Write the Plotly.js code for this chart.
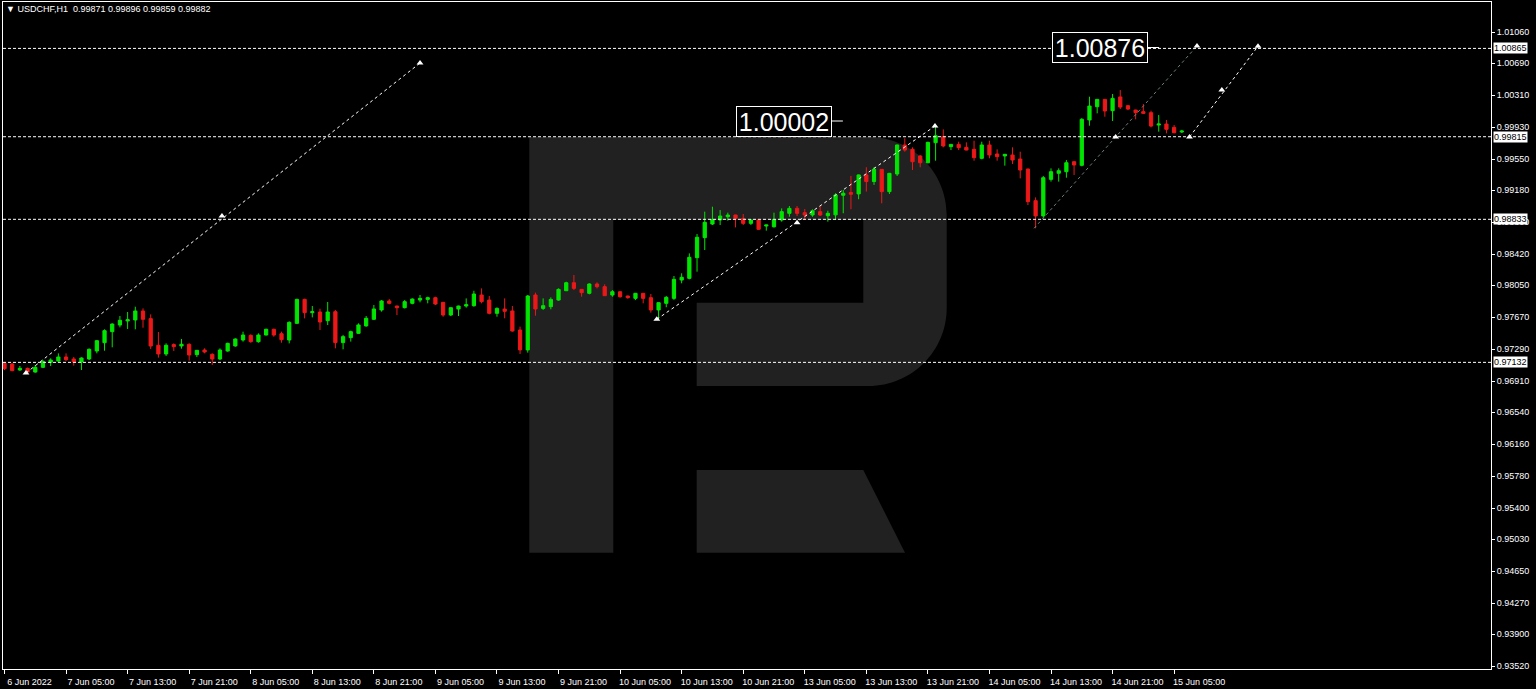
<!DOCTYPE html>
<html>
<head>
<meta charset="utf-8">
<script src="https://cdn.plot.ly/plotly-3.0.1.min.js"></script>
<style>
html,body{margin:0;padding:0;background:#000;}
#chart{width:1536px;height:689px;}
</style>
</head>
<body>
<div id="chart"></div>
<script>
// ---------- DATA ----------
const symbolName = 'USDCHF,H1';
const lastBar = ['0.99871', '0.99896', '0.99859', '0.99882'];

const openP = [
.97121,.97113,.97041,.97061,.97017,.97073,.97133,.97148,.97196,.97172,
.97137,.97172,.97267,.97366,.97497,.97576,.97624,.97636,.97743,.97652,
.97335,.97232,.97343,.97327,.97347,.97224,.97279,.97228,.97172,.97267,
.97327,.97398,.97453,.97378,.97457,.97525,.97473,.97398,.97596,.97881,
.97723,.97731,.97628,.97735,.97367,.97426,.97477,.97565,.97644,.97755,
.97862,.97802,.97782,.97834,.97873,.97881,.97901,.97846,.97695,.97766,
.97802,.97806,.97933,.97873,.97715,.97766,.97743,.97517,.97280,.97933,
.97774,.97794,.97873,.97984,.98079,.98000,.97953,.98064,.98032,.97933,
.97972,.97921,.97893,.97953,.97901,.97755,.97834,.97893,.98111,.98131,
.98377,.98615,.98777,.98825,.98864,.98884,.98844,.98785,.98825,.98753,
.98745,.98825,.98904,.98963,.98912,.98884,.98924,.98876,.98886,.99119,
.99151,.99135,.99361,.99282,.99427,.99162,.99372,.99717,.99665,.99586,
.99506,.99744,.99815,.99697,.99724,.99689,.99665,.99558,.99717,.99610,
.99586,.99598,.99550,.99431,.99055,.98873,.99308,.99380,.99399,.99518,
.99475,1.00014,1.00172,1.00259,1.00125,1.00288,1.00184,1.00132,1.00113,1.00101,
.99954,.99966,.99926,.99871
];
const highP = [
.97129,.97121,.97089,.97069,.97101,.97160,.97180,.97239,.97239,.97196,
.97192,.97299,.97398,.97525,.97596,.97683,.97731,.97794,.97774,.97703,
.97493,.97358,.97358,.97410,.97358,.97279,.97299,.97239,.97299,.97366,
.97418,.97497,.97465,.97477,.97533,.97533,.97497,.97620,.97889,.97889,
.97802,.97770,.97850,.97755,.97458,.97509,.97596,.97683,.97814,.97873,
.97885,.97806,.97873,.97893,.97933,.97913,.97913,.97846,.97786,.97806,
.97893,.97984,.98012,.97921,.97786,.97893,.97802,.97557,.97933,.97961,
.97893,.97905,.98012,.98091,.98171,.98004,.98072,.98083,.98060,.97992,
.97976,.97925,.97957,.97957,.97945,.97846,.97921,.98159,.98191,.98428,
.98658,.98924,.98983,.98943,.98912,.98888,.98896,.98832,.98832,.98769,
.98912,.98963,.98991,.98991,.98955,.98951,.98991,.98935,.99143,.99183,
.99349,.99365,.99452,.99452,.99431,.99384,.99721,.99796,.99689,.99598,
.99756,.99954,.99903,.99728,.99756,.99748,.99768,.99756,.99768,.99665,
.99610,.99689,.99637,.99435,.99094,.99348,.99439,.99439,.99538,.99522,
1.00037,1.00291,1.00263,1.00263,1.00323,1.00370,1.00192,1.00136,1.00204,1.00125,
1.00073,1.00014,.99954,.99896
];
const lowP = [
.97042,.97026,.97033,.97009,.97009,.97065,.97089,.97141,.97148,.97093,
.97041,.97160,.97239,.97271,.97311,.97548,.97529,.97525,.97544,.97291,
.97188,.97208,.97267,.97295,.97153,.97196,.97239,.97101,.97160,.97259,
.97319,.97378,.97366,.97366,.97453,.97437,.97366,.97358,.97588,.97655,
.97667,.97517,.97576,.97299,.97287,.97379,.97470,.97557,.97636,.97735,
.97822,.97695,.97774,.97822,.97846,.97834,.97814,.97675,.97683,.97683,
.97782,.97794,.97834,.97703,.97675,.97656,.97497,.97232,.97248,.97687,
.97755,.97763,.97865,.97980,.97992,.97913,.97941,.98012,.97921,.97913,
.97901,.97889,.97873,.97834,.97723,.97644,.97787,.97874,.98072,.98119,
.98210,.98468,.98765,.98765,.98817,.98737,.98765,.98765,.98706,.98698,
.98733,.98805,.98864,.98872,.98825,.98864,.98872,.98805,.98826,.98905,
.98953,.99072,.99163,.99242,.99023,.99134,.99348,.99637,.99419,.99451,
.99499,.99530,.99689,.99657,.99657,.99653,.99530,.99546,.99558,.99530,
.99471,.99491,.99320,.99003,.98726,.98853,.99281,.99281,.99328,.99360,
.99463,.99946,1.00093,1.00053,1.00002,1.00144,1.00132,1.00022,1.00085,.99926,
.99875,.99855,.99855,.99859
];
const closeP = [
.97057,.97034,.97061,.97017,.97073,.97141,.97160,.97196,.97164,.97137,
.97184,.97287,.97390,.97509,.97588,.97632,.97640,.97743,.97644,.97327,
.97232,.97335,.97319,.97347,.97220,.97275,.97255,.97172,.97279,.97358,
.97410,.97457,.97378,.97457,.97525,.97457,.97402,.97608,.97881,.97723,
.97735,.97612,.97731,.97367,.97438,.97497,.97577,.97656,.97767,.97862,
.97834,.97782,.97854,.97885,.97893,.97901,.97826,.97695,.97782,.97802,
.97818,.97945,.97854,.97715,.97774,.97739,.97505,.97280,.97921,.97767,
.97806,.97881,.98000,.98079,.98012,.97961,.98064,.98032,.97925,.97972,
.97913,.97901,.97953,.97893,.97755,.97842,.97905,.98119,.98143,.98381,
.98619,.98797,.98832,.98872,.98884,.98844,.98785,.98825,.98714,.98765,
.98832,.98924,.98963,.98904,.98884,.98935,.98884,.98904,.99123,.99143,
.99131,.99361,.99282,.99428,.99162,.99380,.99717,.99657,.99518,.99506,
.99748,.99827,.99705,.99724,.99685,.99657,.99566,.99717,.99598,.99578,
.99606,.99538,.99419,.99043,.98873,.99328,.99399,.99411,.99506,.99479,
1.00022,1.00180,1.00259,1.00121,1.00271,1.00168,1.00144,1.00101,1.00093,.99942,
.99966,.99903,.99863,.99882
];

const timeTickIndex = [0,8,16,24,32,40,48,56,64,72,80,88,96,104,112,120,128,136,144,152];
const timeTickLabels = ['6 Jun 2022','7 Jun 05:00','7 Jun 13:00','7 Jun 21:00','8 Jun 05:00',
  '8 Jun 13:00','8 Jun 21:00','9 Jun 05:00','9 Jun 13:00','9 Jun 21:00','10 Jun 05:00',
  '10 Jun 13:00','10 Jun 21:00','13 Jun 05:00','13 Jun 13:00','13 Jun 21:00','14 Jun 05:00',
  '14 Jun 13:00','14 Jun 21:00','15 Jun 05:00'];

const priceTicks = [1.01060,1.00690,1.00310,0.99930,0.99550,0.99180,0.98800,0.98420,0.98050,
  0.97670,0.97290,0.96910,0.96540,0.96160,0.95780,0.95400,0.95030,0.94650,0.94270,0.93900,0.93520];

const levelPrices = [1.00865, 0.99815, 0.98833, 0.97132];

const targetIndex = [107.5, 148.6];
const targetPrice = [1.00002, 1.00876];
const targetText  = ['1.00002', '1.00876'];

// forecast paths (bar index, price)
const pathAIdx = [2.79, 54.0];     const pathAPrice = [0.97005, 1.00691];
const pathBIdx = [84.77, 120.92];  const pathBPrice = [0.97644, 0.99942];
const pathCIdx = [133.8, 154.97];  const pathCPrice = [0.98726, 1.00894];
const pathDIdx = [154.0, 162.9];   const pathDPrice = [0.99812, 1.00890];
const arrowIdx   = [2.79, 28.26, 54.0, 84.77, 103.0, 120.92, 144.4, 154.97, 154.0, 158.2, 162.9];
const arrowPrice = [0.97005, 0.98872, 1.00691, 0.97644, 0.98792, 0.99942, 0.99812, 1.00894, 0.99812, 1.00370, 1.00890];

// ---------- CHART ----------
const barIndex = openP.map((_, i) => i);
const GREEN = '#00e600', RED = '#ec1818';
const FONT = 'Liberation Sans, Arial, sans-serif';

const traces = [
  {
    type: 'candlestick', x: barIndex, open: openP, high: highP, low: lowP, close: closeP,
    increasing: {line: {color: GREEN, width: 1}, fillcolor: GREEN},
    decreasing: {line: {color: RED, width: 1}, fillcolor: RED},
    whiskerwidth: 0, hoverinfo: 'skip', showlegend: false
  },
  {type:'scatter', mode:'lines', x:pathAIdx, y:pathAPrice, line:{color:'#ffffff', width:1, dash:'3px,3px'}, hoverinfo:'skip'},
  {type:'scatter', mode:'lines', x:pathBIdx, y:pathBPrice, line:{color:'#ffffff', width:1, dash:'3px,3px'}, hoverinfo:'skip'},
  {type:'scatter', mode:'lines', x:pathCIdx, y:pathCPrice, line:{color:'#6f8080', width:1, dash:'3px,3px'}, hoverinfo:'skip'},
  {type:'scatter', mode:'lines', x:pathDIdx, y:pathDPrice, line:{color:'#ffffff', width:1, dash:'3px,3px'}, hoverinfo:'skip'},
  {type:'scatter', mode:'markers', x:arrowIdx, y:arrowPrice, marker:{symbol:'triangle-up', size:6, color:'#ffffff'}, hoverinfo:'skip'}
];

// plot area in pixels: x 3..1491, y 2..669
const PX = px => (px - 3) / 1488;
const PY = py => (669 - py) / 667;
const pt = (x, y) => PX(x) + ',' + PY(y);
const r = 78, k = 0.552 * r;
const logoPath =
  'M' + pt(529.3, 552.7) + ' L' + pt(529.3, 137) + ' L' + pt(946.7 - r, 137) +
  ' C' + pt(946.7 - r + k, 137) + ' ' + pt(946.7, 137 + r - k) + ' ' + pt(946.7, 137 + r) +
  ' L' + pt(946.7, 386 - r) +
  ' C' + pt(946.7, 386 - r + k) + ' ' + pt(946.7 - r + k, 386) + ' ' + pt(946.7 - r, 386) +
  ' L' + pt(696.7, 386) + ' L' + pt(696.7, 302.7) + ' L' + pt(863.3, 302.7) +
  ' L' + pt(863.3, 220) + ' L' + pt(613.3, 220) + ' L' + pt(613.3, 552.7) + ' Z';
const legPath = 'M' + pt(696.7, 470) + ' L' + pt(863.3, 470) + ' L' + pt(905, 552.7) + ' L' + pt(696.7, 552.7) + ' Z';

const shapes = [
  {type:'path', xref:'paper', yref:'paper', path:logoPath, fillcolor:'#212121', line:{width:0}, layer:'below'},
  {type:'path', xref:'paper', yref:'paper', path:legPath, fillcolor:'#212121', line:{width:0}, layer:'below'}
];
levelPrices.forEach(p => shapes.push({
  type:'line', xref:'paper', x0:0, x1:1, yref:'y', y0:p, y1:p,
  line:{color:'#ffffff', width:1, dash:'3px,2px'}, layer:'above'
}));
// connectors from target boxes
targetIndex.forEach((xi, j) => shapes.push({
  type:'line', xref:'x', x0:xi, x1:xi + 1.45, yref:'y', y0:targetPrice[j], y1:targetPrice[j],
  line:{color:'#ffffff', width:1}, layer:'above'
}));

const annotations = [];
levelPrices.forEach(p => annotations.push({
  xref:'paper', x:1, xanchor:'left', xshift:2, yref:'y', y:p, yanchor:'middle',
  text:p.toFixed(5), showarrow:false, bgcolor:'#ffffff', borderpad:0,
  font:{family:FONT, size:9, color:'#000000'}
}));
targetIndex.forEach((xi, j) => annotations.push({
  xref:'x', x:xi, xanchor:'right', yref:'y', y:targetPrice[j], yanchor:'middle',
  text:targetText[j], showarrow:false, bgcolor:'#000000', bordercolor:'#ffffff', borderwidth:1,
  borderpad:0, width:94, height:29,
  font:{family:FONT, size:25, color:'#ffffff'}
}));

const layout = {
  width:1536, height:689,
  paper_bgcolor:'#000000', plot_bgcolor:'#000000',
  margin:{l:3, r:45, t:2, b:20},
  showlegend:false, boxgap:0.4, hovermode:false,
  title:{
    text:'▼ ' + symbolName + '  ' + lastBar.join(' '),
    xref:'container', x:6/1536, xanchor:'left',
    yref:'container', y:1 - 9/689, yanchor:'middle', automargin:false,
    font:{family:FONT, size:9, color:'#ffffff'}
  },
  xaxis:{
    type:'linear', range:[-0.195, 193.18], fixedrange:true,
    showgrid:false, zeroline:false,
    showline:true, mirror:true, linecolor:'#ffffff', linewidth:1,
    ticks:'outside', ticklen:4, tickcolor:'#ffffff', tickwidth:1,
    tickmode:'array', tickvals:timeTickIndex, ticktext:timeTickLabels,
    ticklabelshift:25,
    tickfont:{family:FONT, size:9, color:'#ffffff'},
    rangeslider:{visible:false}
  },
  yaxis:{
    side:'right', range:[0.93486, 1.01417], fixedrange:true,
    showgrid:false, zeroline:false,
    showline:true, mirror:true, linecolor:'#ffffff', linewidth:1,
    ticks:'outside', ticklen:3, tickcolor:'#ffffff', tickwidth:1,
    tickmode:'array', tickvals:priceTicks, ticktext:priceTicks.map(v => v.toFixed(5)),
    tickfont:{family:FONT, size:9, color:'#ffffff'}
  },
  shapes: shapes,
  annotations: annotations
};

Plotly.newPlot('chart', traces, layout, {displayModeBar:false, staticPlot:true});
</script>
</body>
</html>
